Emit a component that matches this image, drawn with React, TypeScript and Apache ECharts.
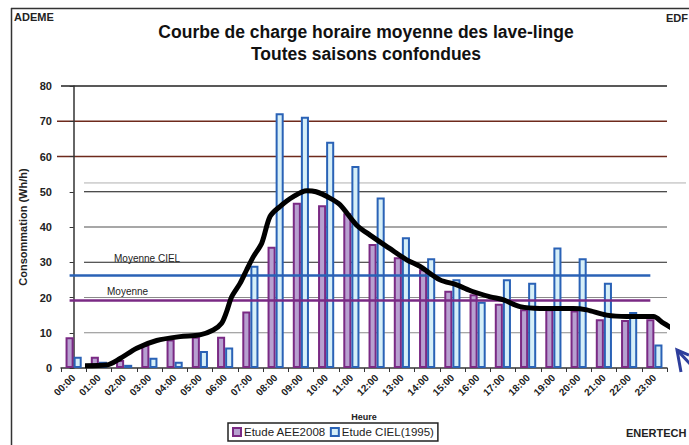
import React, { useEffect, useRef } from 'react';
import * as echarts from 'echarts';

const hours = ['00:00', '01:00', '02:00', '03:00', '04:00', '05:00', '06:00', '07:00', '08:00', '09:00', '10:00', '11:00',
  '12:00', '13:00', '14:00', '15:00', '16:00', '17:00', '18:00', '19:00', '20:00', '21:00', '22:00', '23:00'];
const aee2008 = [8.7, 3.2, 2.3, 6.5, 8.1, 8.9, 8.9, 16.0, 34.4, 46.9, 46.2, 43.9, 35.2, 31.4, 28.0, 21.9, 20.9, 18.2, 16.7, 16.7, 16.3, 13.8, 13.6, 13.8];
const ciel1995 = [3.2, 1.8, 0.9, 2.9, 1.8, 4.8, 5.8, 29.0, 72.3, 71.3, 64.2, 57.3, 48.4, 37.1, 31.1, 25.2, 18.8, 25.2, 24.2, 34.2, 31.1, 24.2, 15.9, 6.7];
const curveHour = [0.45, 1.31, 1.84, 2.5, 3.29, 4.21, 5.0, 5.53, 5.86, 6.06, 6.26, 6.59, 6.85, 7.12, 7.45, 7.78, 8.17, 8.7, 9.23, 9.6, 10.15, 10.55, 11.2, 11.74, 12.5, 13.19, 13.72, 14.51, 15.17, 15.8, 16.5, 17.03, 17.68, 18.47, 19.79, 20.32, 21.11, 21.9, 22.96, 23.36, 23.9];
const curveValue = [0.66, 0.85, 2.7, 5.6, 7.8, 8.9, 9.4, 10.8, 12.7, 16, 20.2, 24, 27.8, 31.6, 35.4, 43, 45.8, 48.6, 50.3, 50.0, 48.2, 46.3, 40.6, 37.7, 34, 30.7, 28.8, 25, 23.6, 21.7, 20.2, 19.3, 17.4, 16.9, 16.9, 16.5, 15.0, 14.6, 14.6, 12.7, 10.5];
const moyenneAEE = 19.2;
const moyenneCIEL = 26.4;
const yTickValues = [0, 10, 20, 30, 40, 50, 60, 70, 80];

const FONT = "'Liberation Sans', Arial, sans-serif";
const PURPLE_FILL = '#b7a0d0';
const PURPLE_LINE = '#7a2a84';
const BLUE_FILL = '#d6eff8';
const BLUE_LINE = '#2a62b6';

export default function App() {
  const ref = useRef<HTMLDivElement>(null);
  useEffect(() => {
    const chart = echarts.init(ref.current!, null, { renderer: 'svg' });
    chart.setOption({
      animation: false,
      backgroundColor: '#ffffff',
      title: {
        text: 'Courbe de charge horaire moyenne des lave-linge\nToutes saisons confondues',
        left: 361,
        top: 16,
        textAlign: 'center',
        textStyle: { fontFamily: FONT, fontSize: 17.5, fontWeight: 'bold', color: '#111', lineHeight: 22 },
      },
      legend: {
        data: ['Etude AEE2008', 'Etude CIEL(1995)'],
        left: 228,
        top: 423,
        icon: 'rect',
        itemWidth: 8,
        itemHeight: 8,
        itemGap: 4,
        padding: [3, 4],
        borderColor: '#222',
        borderWidth: 1.5,
        textStyle: { fontFamily: FONT, fontSize: 11.5, color: '#222', padding: [0, 0, 0, -2] },
      },
      grid: { left: 61, right: 22, top: 86, bottom: 77 },
      xAxis: [
        {
          type: 'category',
          data: hours,
          boundaryGap: true,
          axisLine: { lineStyle: { color: '#333', width: 1.5 } },
          axisTick: { show: true, interval: 0, length: 4, lineStyle: { color: '#333' } },
          axisLabel: {
            interval: 0,
            rotate: 45,
            margin: 8,
            fontFamily: FONT,
            fontSize: 10,
            fontWeight: 'bold',
            color: '#222',
          },
          name: 'Heure',
          nameLocation: 'middle',
          nameGap: 44,
          nameTextStyle: { fontFamily: FONT, fontSize: 9, fontWeight: 'bold', color: '#222' },
        },
        { type: 'value', min: -0.5, max: 23.5, show: false },
      ],
      yAxis: {
        type: 'value',
        min: 0,
        max: 80,
        interval: 10,
        axisLine: { show: true, lineStyle: { color: '#333', width: 1.5 } },
        axisTick: { show: true, length: 4, lineStyle: { color: '#333' } },
        axisLabel: { fontFamily: FONT, fontSize: 11, fontWeight: 'bold', color: '#222', margin: 9 },
        splitLine: { show: false },
        name: 'Consommation (Wh/h)',
        nameLocation: 'middle',
        nameGap: 19,
        nameTextStyle: { fontFamily: FONT, fontSize: 11, fontWeight: 'bold', color: '#222' },
      },
      series: [
        {
          name: 'Etude AEE2008',
          type: 'bar',
          data: aee2008,
          barGap: '0%',
          barCategoryGap: '36%',
          itemStyle: { color: PURPLE_FILL, borderColor: PURPLE_LINE, borderWidth: 2 },
          markLine: {
            silent: true,
            symbol: 'none',
            label: { show: false },
            data: [
              [
                { coord: [hours[0], moyenneCIEL], lineStyle: { color: BLUE_LINE, width: 2.5, type: 'solid' } },
                { coord: [hours[23], moyenneCIEL] },
              ],
              [
                { coord: [hours[0], moyenneAEE], lineStyle: { color: PURPLE_LINE, width: 2.5, type: 'solid' } },
                { coord: [hours[23], moyenneAEE] },
              ],
            ],
          },
        },
        {
          name: 'Etude CIEL(1995)',
          type: 'bar',
          data: ciel1995,
          itemStyle: { color: BLUE_FILL, borderColor: BLUE_LINE, borderWidth: 2 },
        },
        {
          name: 'Courbe',
          type: 'line',
          xAxisIndex: 1,
          data: curveHour.map((h, i) => [h, curveValue[i]]),
          smooth: 0.3,
          symbol: 'none',
          clip: false,
          z: 6,
          lineStyle: { color: '#000', width: 5 },
        },
      ],
    });

    const xL = chart.convertToPixel({ xAxisIndex: 1 }, -0.5) as number;
    const xR = chart.convertToPixel({ xAxisIndex: 1 }, 23.5) as number;
    const py = (v: number) => chart.convertToPixel({ yAxisIndex: 0 }, v) as number;
    const gridStyle: Record<number, { color: string; width: number; x0: number; x1: number }> = {
      10: { color: '#8a8a8a', width: 1.2, x0: xL + 23, x1: xR },
      20: { color: '#8a8a8a', width: 1.2, x0: xL + 23, x1: xR },
      30: { color: '#222', width: 1, x0: xL + 23, x1: xR },
      40: { color: '#8a8a8a', width: 1.5, x0: xL + 23, x1: xR },
      50: { color: '#111', width: 1, x0: xL + 23, x1: xR },
      60: { color: '#6e2a1c', width: 1.5, x0: xL - 4, x1: xR },
      70: { color: '#6e2a1c', width: 1.5, x0: xL - 4, x1: xR },
      80: { color: '#222', width: 1.5, x0: xL, x1: xR },
    };
    const graphics: any[] = [];
    yTickValues.forEach((v) => {
      const s = gridStyle[v];
      if (!s) return;
      const y = py(v);
      graphics.push({
        type: 'line', z: 0, silent: true,
        shape: { x1: s.x0, y1: y, x2: s.x1, y2: y },
        style: { stroke: s.color, lineWidth: s.width },
      });
    });
    const yStray = py(52.5);
    graphics.push({
      type: 'line', z: 0, silent: true,
      shape: { x1: xL + 23, y1: yStray, x2: 686, y2: yStray },
      style: { stroke: '#b0b0b0', lineWidth: 1 },
    });
    // frame
    graphics.push({ type: 'line', z: 1, silent: true, shape: { x1: 11, y1: 8.5, x2: 689, y2: 8.5 }, style: { stroke: '#333', lineWidth: 1.5 } });
    graphics.push({ type: 'line', z: 1, silent: true, shape: { x1: 11.5, y1: 8, x2: 11.5, y2: 445 }, style: { stroke: '#333', lineWidth: 1.5 } });
    // corner texts
    graphics.push({ type: 'text', z: 10, style: { text: 'ADEME', x: 14, y: 11, font: `bold 11px ${FONT}`, fill: '#222' } });
    graphics.push({ type: 'text', z: 10, style: { text: 'EDF', x: 666, y: 12, font: `bold 11px ${FONT}`, fill: '#222' } });
    graphics.push({ type: 'text', z: 10, style: { text: 'ENERTECH', x: 626, y: 427, font: `bold 11px ${FONT}`, fill: '#222' } });
    // average labels
    graphics.push({ type: 'text', z: 10, style: { text: 'Moyenne CIEL', x: 114, y: py(moyenneCIEL) - 21, font: `10px ${FONT}`, fill: '#222' } });
    graphics.push({ type: 'text', z: 10, style: { text: 'Moyenne', x: 107, y: py(moyenneAEE) - 14, font: `10px ${FONT}`, fill: '#222' } });
    // hand-drawn arrow
    graphics.push({
      type: 'polyline', z: 10, silent: true,
      shape: { points: [[681, 372], [677, 350], [689, 355]] },
      style: { stroke: '#2e3e9c', lineWidth: 3, fill: 'none' },
    });
    graphics.push({
      type: 'line', z: 10, silent: true,
      shape: { x1: 677, y1: 350, x2: 692, y2: 366 },
      style: { stroke: '#2e3e9c', lineWidth: 3 },
    });
    chart.setOption({ graphic: graphics });
    return () => chart.dispose();
  }, []);
  return <div ref={ref} style={{ position: 'fixed', left: 0, top: 0, width: 689, height: 445, background: '#fff' }} />;
}
